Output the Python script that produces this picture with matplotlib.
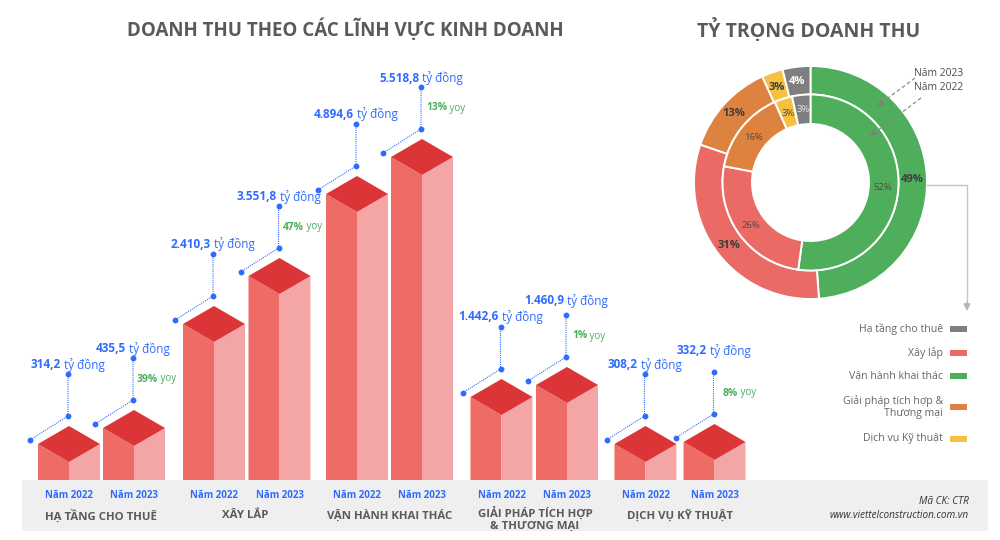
import matplotlib
matplotlib.use('Agg')
from matplotlib import pyplot as plt

plt.rcParams['font.family'] = ['Open Sans', 'DejaVu Sans']

# du lieu doanh thu (ty dong)
years = ['Năm 2022', 'Năm 2023']
segments = ['Vận hành khai thác', 'Xây lắp', 'Giải pháp tích hợp &\nThương mại', 'Dịch vụ Kỹ thuật', 'Hạ tầng cho thuê']
rev_2022 = [4894.6, 2410.3, 1442.6, 308.2, 314.2]
rev_2023 = [5518.8, 3551.8, 1460.9, 332.2, 435.5]
pct_2022 = ['52%', '26%', '16%', '3%', '3%']
pct_2023 = ['49%', '31%', '13%', '3%', '4%']

# cot theo thu tu tren hinh
bar_labels = ['314,2', '435,5', '2.410,3', '3.551,8', '4.894,6', '5.518,8', '1.442,6', '1.460,9', '308,2', '332,2']
bar_heights = [18, 34, 138, 186, 268, 305, 65, 77, 18, 20]  # doc tu hinh, khong dung ty le voi doanh thu
yoy_labels = ['39%', '47%', '13%', '1%', '8%']
group_labels = ['HẠ TẦNG CHO THUÊ', 'XÂY LẮP', 'VẬN HÀNH KHAI THÁC', 'GIẢI PHÁP TÍCH HỢP\n& THƯƠNG MẠI', 'DỊCH VỤ KỸ THUẬT']
legend_order = [4, 1, 0, 2, 3]

# vi tri
bar_x = [69, 134, 214, 279.5, 357, 422, 501.5, 567, 645.5, 714.5]
label_gap = [9, 9, 10, 9, 10, 9, 10, 14, 9, 21]
group_x = [101, 245, 390, 535, 680]
yoy_dx = [3, 3, 4, 5, 8]
legend_y = [329, 353, 376, 407, 439]
base_y = 480
half_w = 31
roof = 18

seg_colors = ['#4fae5c', '#ea6a65', '#de8240', '#f6c143', '#7f7f7f']
blue = '#2f6bff'
green = '#4bae5e'
gray_text = '#5a5a5a'

fig = plt.figure(figsize=(10, 5.4), dpi=100, facecolor='white')
ax = fig.add_axes([0, 0, 1, 1], zorder=2)
ax.set_xlim(0, 1000)
ax.set_ylim(540, 0)
ax.axis('off')


def mixed_text(x, y, bold, regular, size, color):
    # so in dam + don vi thuong, canh giua tai x
    r = fig.canvas.get_renderer()
    t1 = ax.text(x, y, bold, fontsize=size, fontweight='bold', color=color, va='center', ha='left')
    t2 = ax.text(x, y, regular, fontsize=size, color=color, va='center', ha='left')
    w1 = t1.get_window_extent(r).width
    w2 = t2.get_window_extent(r).width
    t1.set_x(x - (w1 + w2) / 2)
    t2.set_x(x - (w1 + w2) / 2 + w1)
    return t1, t2


# tieu de
ax.text(345, 30, 'DOANH THU THEO CÁC LĨNH VỰC KINH DOANH', fontsize=13.5, fontweight='bold', color=gray_text, ha='center', va='center')
ax.text(809, 30, 'TỶ TRỌNG DOANH THU', fontsize=14, fontweight='bold', color=gray_text, ha='center', va='center')

# dai xam phia duoi
ax.fill([22, 988, 988, 22], [480, 480, 531, 531], color='#efefef', lw=0, zorder=1)

# cac cot 3D
for i, (cx, h) in enumerate(zip(bar_x, bar_heights)):
    top = base_y - h
    ax.fill([cx - half_w, cx, cx, cx - half_w], [base_y, base_y, top, top - roof], color='#ee6b66', lw=0, zorder=2)
    ax.fill([cx, cx + half_w, cx + half_w, cx], [base_y, base_y, top - roof, top], color='#f4a5a6', lw=0, zorder=2)
    ax.fill([cx, cx + half_w, cx, cx - half_w], [top, top - roof, top - 2 * roof, top - roof], color='#db3537', lw=0, zorder=3)

    back = top - 2 * roof
    ax.plot([cx - 39, cx - 1, cx - 1], [back + 14, back - 10, back - 52], color=blue, lw=0.8,
            ls=(0, (1, 1)), zorder=4)
    ax.plot([cx - 39, cx - 1, cx - 1], [back + 14, back - 10, back - 52], ls='none', marker='o', ms=3.2, color=blue, zorder=5)
    mixed_text(cx - 1, back - 52 - label_gap[i], bar_labels[i], ' tỷ đồng', 8.5, blue)
    ax.text(cx, 496, years[i % 2], fontsize=7, fontweight='bold', color=blue, ha='center', va='center')

    if i % 2 == 1:
        j = i // 2
        yy = back - 31
        t1 = ax.text(cx + yoy_dx[j], yy, yoy_labels[j], fontsize=7.4, fontweight='bold', color=green, ha='left', va='center')
        w = t1.get_window_extent(fig.canvas.get_renderer()).width
        ax.text(cx + yoy_dx[j] + w, yy, ' yoy', fontsize=7, color=green, ha='left', va='center')

# ten nhom
for gx, name in zip(group_x, group_labels):
    y = 519 if '\n' in name else 516
    ax.text(gx, y, name, fontsize=8.2, fontweight='bold', color=gray_text, ha='center', va='center', linespacing=1.05)

# bieu do tron 2 vong
cx, cy = 810.5, 182.5
span = 120
dax = fig.add_axes([(cx - span) / 1000, (540 - cy - span) / 540, 2 * span / 1000, 2 * span / 540], zorder=1)
wp = dict(edgecolor='white', linewidth=1.4)
dax.pie(rev_2023, radius=116.5, startangle=90, counterclock=False, colors=seg_colors, frame=True,
        wedgeprops=dict(width=28.5, **wp))
dax.pie(rev_2022, radius=88, startangle=90, counterclock=False, colors=seg_colors, frame=True,
        wedgeprops=dict(width=29.5, **wp))
dax.set_xlim(-span, span)
dax.set_ylim(-span, span)
dax.axis('off')

outer_xy = [(912, 180), (729, 246), (734, 114), (777, 87), (797, 81)]
inner_xy = [(883, 188), (751, 226), (753, 138), (788, 114), (803, 110)]
for i, (x, y) in enumerate(outer_xy):
    c = 'white' if i == 4 else '#3d3d3d'
    ax.text(x, y, pct_2023[i], fontsize=8, fontweight='bold', color=c, ha='center', va='center')
for i, (x, y) in enumerate(inner_xy):
    c = '#e6e6e6' if i == 4 else '#4a4a4a'
    ax.text(x, y, pct_2022[i], fontsize=6.8, color=c, ha='center', va='center')

# chu thich nam: net dut + dau mui ten dac
ax.text(939, 73, years[1], fontsize=7.4, color='#4a4a4a', ha='center', va='center')
ax.text(939, 88, years[0], fontsize=7.4, color='#4a4a4a', ha='center', va='center')
ax.plot([915, 880], [78, 104], color='#8a8a8a', lw=0.9, ls=(0, (3, 2)))
ax.plot([921, 873], [98, 134], color='#8a8a8a', lw=0.9, ls=(0, (3, 2)))
head = dict(arrowstyle='-|>', color='#7f7f7f', lw=0.8, mutation_scale=9, shrinkA=0, shrinkB=0)
ax.annotate('', xy=(877, 106), xytext=(883, 102), arrowprops=head)
ax.annotate('', xy=(870, 136), xytext=(876, 132), arrowprops=head)

# duong noi toi chu giai
ax.plot([927, 967, 967], [185, 185, 304], color='#c6c6c6', lw=1)
ax.annotate('', xy=(967, 311), xytext=(967, 302),
            arrowprops=dict(arrowstyle='-|>', color='#b5b5b5', lw=1, mutation_scale=10, shrinkA=0, shrinkB=0))

# chu giai
for idx, y in zip(legend_order, legend_y):
    ax.text(943, y, segments[idx], fontsize=7.6, color='#666666', ha='right', va='center', linespacing=1.15)
    ax.fill([950, 967, 967, 950], [y - 3, y - 3, y + 3, y + 3], color=seg_colors[idx], lw=0)

# chan trang
ax.text(969, 502, 'Mã CK: CTR', fontsize=7.2, style='italic', color='#333333', ha='right', va='center')
ax.text(969, 516, 'www.viettelconstruction.com.vn', fontsize=7.2, style='italic', color='#333333', ha='right', va='center')

fig.savefig('out.png', dpi=100)
